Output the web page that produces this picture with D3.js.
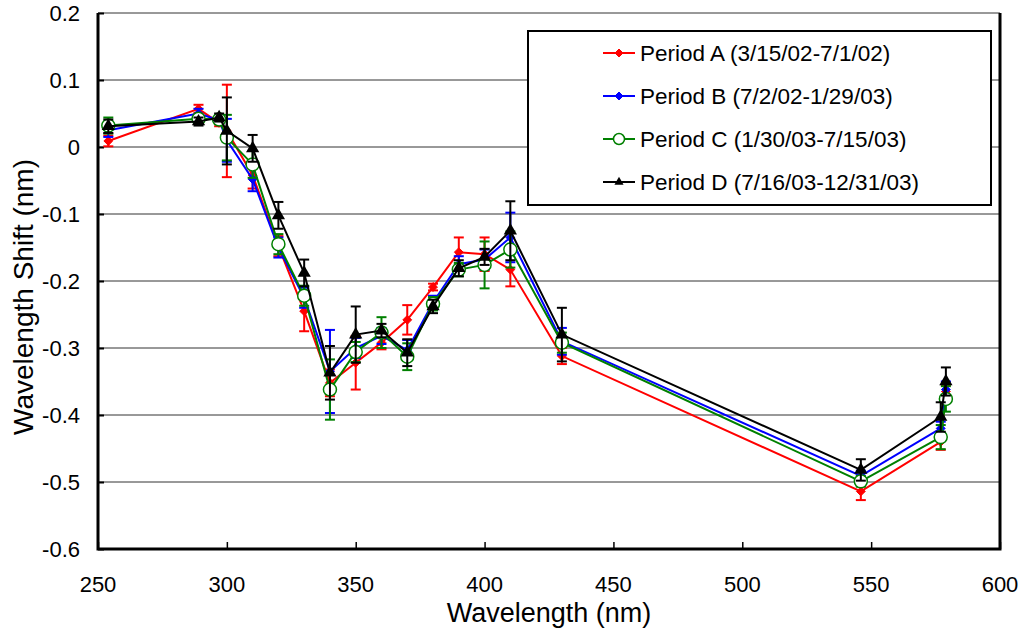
<!DOCTYPE html>
<html>
<head>
<meta charset="utf-8">
<script src="https://cdn.jsdelivr.net/npm/d3@7"></script>
<style>
  body { margin: 0; background: #fff; }
  text { font-family: "Liberation Sans", Arial, sans-serif; fill: #000; }
</style>
</head>
<body>
<svg id="chart" width="1023" height="632"></svg>
<script>
// wavelengths shared by every period
var wavelengths = [254, 289, 297, 300, 310, 320, 330, 340, 350, 360, 370, 380, 390, 400, 410, 430, 546, 577, 579];

var shiftA = [0.009, 0.057, 0.036, 0.024, -0.042, -0.148, -0.245, -0.352, -0.322, -0.292, -0.258, -0.209, -0.157, -0.160, -0.183, -0.312, -0.514, -0.440, -0.365];
var shiftB = [0.025, 0.050, 0.040, 0.010, -0.048, -0.150, -0.225, -0.335, -0.300, -0.282, -0.303, -0.232, -0.175, -0.168, -0.135, -0.290, -0.491, -0.420, -0.362];
var shiftC = [0.032, 0.042, 0.041, 0.014, -0.026, -0.145, -0.222, -0.362, -0.306, -0.277, -0.313, -0.234, -0.183, -0.176, -0.153, -0.292, -0.499, -0.433, -0.376];
var shiftD = [0.031, 0.038, 0.044, 0.024, -0.002, -0.102, -0.188, -0.337, -0.280, -0.274, -0.307, -0.238, -0.181, -0.164, -0.125, -0.280, -0.482, -0.403, -0.350];

var errA = [0.008, 0.006, 0.005, 0.069, 0.020, 0.015, 0.030, 0.020, 0.040, 0.010, 0.022, 0.005, 0.022, 0.025, 0.025, 0.012, 0.013, 0.012, 0.010];
var errB = [0.010, 0.007, 0.005, 0.032, 0.018, 0.015, 0.015, 0.062, 0.015, 0.012, 0.015, 0.010, 0.012, 0.015, 0.037, 0.020, 0.008, 0.010, 0.012];
var errC = [0.012, 0.006, 0.005, 0.034, 0.020, 0.015, 0.015, 0.045, 0.015, 0.023, 0.020, 0.010, 0.010, 0.035, 0.027, 0.015, 0.008, 0.018, 0.019];
var errD = [0.010, 0.006, 0.006, 0.050, 0.020, 0.020, 0.020, 0.040, 0.042, 0.010, 0.020, 0.010, 0.012, 0.012, 0.044, 0.040, 0.016, 0.022, 0.021];

var periodNames = ["Period A (3/15/02-7/1/02)", "Period B (7/2/02-1/29/03)", "Period C (1/30/03-7/15/03)", "Period D (7/16/03-12/31/03)"];
var xTicks = [250, 300, 350, 400, 450, 500, 550, 600];
var yTicks = [0.2, 0.1, 0, -0.1, -0.2, -0.3, -0.4, -0.5, -0.6];

var series = [
  {name: periodNames[0], values: shiftA, err: errA, color: "#ff0000", marker: "diamond"},
  {name: periodNames[1], values: shiftB, err: errB, color: "#0000ff", marker: "diamond"},
  {name: periodNames[2], values: shiftC, err: errC, color: "#008000", marker: "circle"},
  {name: periodNames[3], values: shiftD, err: errD, color: "#000000", marker: "triangle"}
];

var svg = d3.select("#chart");
var plotL = 98, plotR = 1000, plotT = 13, plotB = 549;

var x = d3.scaleLinear().domain([250, 600]).range([plotL, plotR]);
var y = d3.scaleLinear().domain([-0.6, 0.2]).range([plotB, plotT]);

// gridlines
svg.append("g").selectAll("line").data(yTicks.filter(function(d) { return d > -0.6; }))
  .join("line")
  .attr("x1", plotL).attr("x2", plotR)
  .attr("y1", function(d) { return y(d); }).attr("y2", function(d) { return y(d); })
  .attr("stroke", "#333").attr("stroke-width", 1);

// axes, ticks pointing inward; plain hyphen for the minus sign
var fmtY = function(d) { return d === 0 ? "0" : d3.format(".1f")(d).replace("\u2212", "-"); };
var yAxis = svg.append("g").attr("transform", "translate(" + plotL + ",0)")
  .call(d3.axisRight(y).tickValues(yTicks).tickSize(6).tickFormat(""));
yAxis.select(".domain").remove();
yAxis.selectAll("line").attr("stroke-width", 2);
svg.append("g").selectAll("text").data(yTicks).join("text")
  .attr("x", 80).attr("y", function(d) { return y(d); })
  .attr("dy", "0.36em").attr("text-anchor", "end")
  .attr("font-size", 22).text(fmtY);

var xAxis = svg.append("g").attr("transform", "translate(0," + plotB + ")")
  .call(d3.axisTop(x).tickValues(xTicks).tickSize(7).tickFormat(""));
xAxis.select(".domain").remove();
xAxis.selectAll("line").attr("stroke-width", 1.5);
svg.append("g").selectAll("text").data(xTicks).join("text")
  .attr("x", function(d) { return x(d); }).attr("y", 592)
  .attr("text-anchor", "middle").attr("font-size", 22).text(function(d) { return d; });

// frame: left, bottom, right
svg.append("path")
  .attr("d", "M" + plotL + "," + plotT + "V" + plotB + "H" + plotR + "V" + plotT)
  .attr("fill", "none").attr("stroke", "#000").attr("stroke-width", 3);

// axis titles
svg.append("text").attr("x", 549).attr("y", 622)
  .attr("text-anchor", "middle").attr("font-size", 27).text("Wavelength (nm)");
svg.append("text").attr("transform", "translate(33,297) rotate(-90)")
  .attr("text-anchor", "middle").attr("font-size", 28).text("Wavelength Shift (nm)");

function drawMarker(g, type, color, size) {
  if (type === "diamond") {
    g.append("path").attr("d", d3.symbol(d3.symbolDiamond2, size * size * 0.5)())
      .attr("fill", color).attr("stroke", color).attr("stroke-width", 1);
  } else if (type === "circle") {
    g.append("circle").attr("r", size / 2)
      .attr("fill", "#fff").attr("stroke", color).attr("stroke-width", 1.5);
  } else {
    g.append("path").attr("d", d3.symbol(d3.symbolTriangle, size * size * 0.45)())
      .attr("fill", color);
  }
}

var line = d3.line()
  .x(function(d) { return x(d.w); })
  .y(function(d) { return y(d.v); });

series.forEach(function(s) {
  var pts = wavelengths.map(function(w, i) { return {w: w, v: s.values[i], e: s.err[i]}; });
  var g = svg.append("g");

  // error bars
  var eb = g.append("g").attr("stroke", s.color).attr("stroke-width", 2);
  pts.forEach(function(p) {
    var cx = x(p.w);
    eb.append("line").attr("x1", cx).attr("x2", cx).attr("y1", y(p.v + p.e)).attr("y2", y(p.v - p.e));
    eb.append("line").attr("x1", cx - 5).attr("x2", cx + 5).attr("y1", y(p.v + p.e)).attr("y2", y(p.v + p.e));
    eb.append("line").attr("x1", cx - 5).attr("x2", cx + 5).attr("y1", y(p.v - p.e)).attr("y2", y(p.v - p.e));
  });

  g.append("path").datum(pts).attr("d", line)
    .attr("fill", "none").attr("stroke", s.color).attr("stroke-width", 2);

  pts.forEach(function(p) {
    var m = g.append("g").attr("transform", "translate(" + x(p.w) + "," + y(p.v) + ")");
    drawMarker(m, s.marker, s.color, s.marker === "circle" ? 13 : (s.marker === "triangle" ? 13 : 10));
  });
});

// legend
var lg = svg.append("g");
lg.append("rect").attr("x", 528).attr("y", 31).attr("width", 463).attr("height", 174)
  .attr("fill", "#fff").attr("stroke", "#000").attr("stroke-width", 2);
series.forEach(function(s, i) {
  var ly = 53 + i * 43;
  lg.append("line").attr("x1", 603).attr("x2", 635).attr("y1", ly).attr("y2", ly)
    .attr("stroke", s.color).attr("stroke-width", 2);
  var m = lg.append("g").attr("transform", "translate(619," + ly + ")");
  drawMarker(m, s.marker, s.color, s.marker === "circle" ? 11 : 9);
  lg.append("text").attr("x", 640).attr("y", ly).attr("dy", "0.36em")
    .attr("font-size", 22.5).text(s.name);
});
</script>
</body>
</html>
